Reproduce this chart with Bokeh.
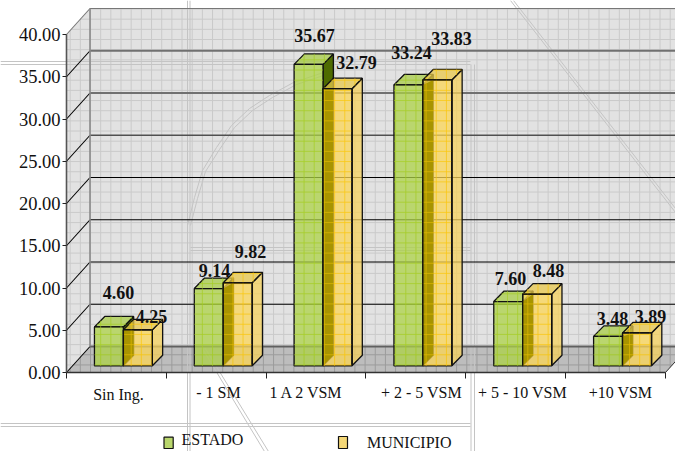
from bokeh.core.properties import value
from bokeh.embed import file_html
from bokeh.models import FixedTicker, LinearAxis, NumeralTickFormatter, Range1d
from bokeh.plotting import figure
from bokeh.resources import INLINE

# Income brackets and the share of population in each one
categories = ["Sin Ing.", "- 1 SM", "1 A 2 VSM", "+ 2 - 5 VSM", "+ 5 - 10 VSM", "+10 VSM"]
estado = [4.60, 9.14, 35.67, 33.24, 7.60, 3.48]
municipio = [4.25, 9.82, 32.79, 33.83, 8.48, 3.89]
y_ticks = [0, 5, 10, 15, 20, 25, 30, 35, 40]

# Canvas scale: where the front axes sit, in canvas pixels
WIDTH, HEIGHT = 675, 451
ORIGIN_X, ORIGIN_Y = 66.0, 372.0
PX_PER_CAT, PX_PER_UNIT = 99.83, 8.45


def dx(px):
    return (px - ORIGIN_X) / PX_PER_CAT


def dy(py):
    return (ORIGIN_Y - py) / PX_PER_UNIT


# 3D box depth of the chart room and of the bars
ROOM_DX, ROOM_DY = 23.5 / PX_PER_CAT, 26.0 / PX_PER_UNIT
BAR_DX, BAR_DY = 10.3 / PX_PER_CAT, 10.5 / PX_PER_UNIT
BAR_BASE = dy(365.3)
BAR_W = 0.29
BAR_OFFSET = 0.28
N = len(categories)
TOP = max(y_ticks)

FONT = value("Liberation Serif")
CELL = 10.17


def lattice(poly):
    """Screen-aligned mesh of lines clipped to a convex polygon given in data units."""
    pts = [((x * PX_PER_CAT + ORIGIN_X), (ORIGIN_Y - y * PX_PER_UNIT)) for x, y in poly]
    xs_out, ys_out = [], []
    lo_x, hi_x = min(p[0] for p in pts), max(p[0] for p in pts)
    lo_y, hi_y = min(p[1] for p in pts), max(p[1] for p in pts)

    def crossings(coord, a, b):
        found = []
        for i in range(len(pts)):
            p, q = pts[i], pts[(i + 1) % len(pts)]
            if (p[a] - coord) * (q[a] - coord) <= 0 and p[a] != q[a]:
                t = (coord - p[a]) / (q[a] - p[a])
                found.append(p[b] + t * (q[b] - p[b]))
        return found

    k = int((lo_x - 90) // CELL)
    while 90 + k * CELL <= hi_x:
        c = 90 + k * CELL
        k += 1
        if c < lo_x:
            continue
        hit = crossings(c, 0, 1)
        if len(hit) >= 2:
            xs_out.append([dx(c), dx(c)])
            ys_out.append([dy(min(hit)), dy(max(hit))])
    k = int((lo_y - 8.5) // CELL)
    while 8.5 + k * CELL <= hi_y:
        c = 8.5 + k * CELL
        k += 1
        if c < lo_y:
            continue
        hit = crossings(c, 1, 0)
        if len(hit) >= 2:
            xs_out.append([dx(min(hit)), dx(max(hit))])
            ys_out.append([dy(c), dy(c)])
    return xs_out, ys_out


p = figure(
    width=WIDTH, height=HEIGHT, output_backend="svg", toolbar_location=None,
    x_range=Range1d(dx(0), dx(WIDTH)), y_range=Range1d(dy(HEIGHT), dy(0)),
    x_axis_type=None, y_axis_type=None, min_border=0, outline_line_color=None,
    background_fill_color="white",
)
p.grid.visible = False

# Room: back wall, side wall and floor
right = N + 0.4
back_wall = [(ROOM_DX, 0 + ROOM_DY), (right, ROOM_DY), (right, TOP + ROOM_DY), (ROOM_DX, TOP + ROOM_DY)]
side_wall = [(0, 0), (ROOM_DX, ROOM_DY), (ROOM_DX, TOP + ROOM_DY), (0, TOP)]
floor = [(0, 0), (N, 0), (N + ROOM_DX, ROOM_DY), (ROOM_DX, ROOM_DY)]

for poly, fill, mesh in [(back_wall, "#e2e2e2", "#cacaca"), (side_wall, "#e2e2e2", "#cacaca"),
                         (floor, "#bdbdbd", "#9c9c9c")]:
    p.patch([a for a, _ in poly], [b for _, b in poly], fill_color=fill, line_color=None)
    mx, my = lattice(poly)
    p.multi_line(mx, my, line_color=mesh, line_width=1)

# Faint linework printed behind the chart
backdrop = [
    [(187, 0), (187, 451)], [(189.5, 0), (189.5, 451)],
    [(0, 61), (470, 61)], [(0, 64), (470, 64)],
    [(470.5, 64), (470.5, 451)], [(474, 64), (474, 451)],
    [(190, 247), (470, 247)], [(190, 250), (470, 250)],
    [(0, 423), (470, 423)], [(0, 426), (470, 426)],
    [(510, 0), (675, 212)], [(513, 0), (675, 208)],
    [(200, 345), (264, 451)], [(203, 345), (268, 451)],
    [(187, 225), (194, 197), (202, 170), (216, 147), (231, 125), (249, 108), (269, 95), (293, 82), (335, 68)],
    [(190, 225), (197, 198), (205, 171), (219, 149), (234, 127), (252, 110), (272, 97), (296, 84), (335, 71)],
]
p.multi_line([[dx(a) for a, _ in ln] for ln in backdrop], [[dy(b) for _, b in ln] for ln in backdrop],
             line_color="#c4c4c4", line_width=1)

# Wall rules: a receding tick and a horizontal line at every value
for v in y_ticks:
    colour, weight = "#000000", 1.1
    if v == 40:
        colour, weight = "#777777", 1.2
    elif v == 35 or v == 30:
        colour, weight = "#707070", 2.0
    elif v == 25:
        colour, weight = "#505050", 1.3
    elif v == 0:
        colour, weight = "#606060", 2.0
    p.line([ROOM_DX, right], [v + ROOM_DY, v + ROOM_DY], line_color=colour, line_width=weight)
    p.line([0, ROOM_DX], [v, v + ROOM_DY], line_color="#000000" if v < 40 else "#777777", line_width=1.1)
p.line([ROOM_DX, ROOM_DX], [ROOM_DY, TOP + ROOM_DY], line_color="#8a8a8a", line_width=1.6)
p.line([N, N + ROOM_DX], [0, ROOM_DY], line_color="#333333", line_width=1)


def add_bar(x0, val, front, top_col, side, mesh, alpha, side_alpha):
    x1 = x0 + BAR_W
    h = BAR_BASE + val
    front_poly = [(x0, BAR_BASE), (x1, BAR_BASE), (x1, h), (x0, h)]
    top_poly = [(x0, h), (x1, h), (x1 + BAR_DX, h + BAR_DY), (x0 + BAR_DX, h + BAR_DY)]
    side_poly = [(x1, BAR_BASE), (x1 + BAR_DX, BAR_BASE + BAR_DY), (x1 + BAR_DX, h + BAR_DY), (x1, h)]
    for poly, col, a in [(side_poly, side, side_alpha), (top_poly, top_col, alpha), (front_poly, front, alpha)]:
        p.patch([c for c, _ in poly], [b for _, b in poly], fill_color=col, fill_alpha=a,
                line_color="#111111", line_width=1.3)
    for poly in (top_poly, front_poly):
        mx, my = lattice(poly)
        p.multi_line(mx, my, line_color=mesh, line_width=1, line_alpha=0.6)


for i in range(N):
    gx = i + BAR_OFFSET
    yx = gx + BAR_W
    add_bar(gx, estado[i], "#acd247", "#a8cc48", "#4e6b00", "#a6d01e", 0.75, 1.0)
    add_bar(yx, municipio[i], "#fbd555", "#e8c84c", "#f5d25c", "#ffc800", 0.75, 0.75)
    # The green bar's dark flank seen through the yellow front
    g_h = BAR_BASE + estado[i]
    y_h = BAR_BASE + municipio[i]
    strip = [(yx, BAR_BASE), (yx + BAR_DX, BAR_BASE + BAR_DY),
             (yx + BAR_DX, min(g_h + BAR_DY, y_h)), (yx, min(g_h, y_h))]
    p.patch([a for a, _ in strip], [b for _, b in strip], fill_color="#a89400", line_color=None)
    mx, my = lattice(strip)
    p.multi_line(mx, my, line_color="#e0b800", line_width=1, line_alpha=0.7)
    p.line([yx, yx, yx + BAR_W, yx + BAR_W], [BAR_BASE, y_h, y_h, BAR_BASE], line_color="#111111", line_width=1.3)

# Axes, placed on the front edge of the room
yaxis = LinearAxis(fixed_location=0, bounds=(0, TOP), ticker=FixedTicker(ticks=y_ticks),
                   formatter=NumeralTickFormatter(format="0.00"),
                   axis_line_color="#555555", axis_line_width=1.6,
                   major_tick_line_color="#222222", major_tick_out=4, major_tick_in=0, minor_tick_line_color=None,
                   major_label_text_font="Liberation Serif", major_label_text_font_size="18.5px",
                   major_label_text_color="#111111", major_label_standoff=2)
p.add_layout(yaxis, "left")
span_edges = list(range(N + 1))
xaxis = LinearAxis(fixed_location=0, bounds=(0, N), ticker=FixedTicker(ticks=span_edges),
                   major_label_overrides={t: "" for t in span_edges},
                   axis_line_color="#333333", axis_line_width=1.6,
                   major_tick_line_color="#222222", major_tick_out=6, major_tick_in=0, minor_tick_line_color=None)
p.add_layout(xaxis, "below")

# Category names sit under each span at slightly uneven places
cat_x = [118, 218, 306, 421, 522, 620]
cat_y = [394, 392, 392, 392, 392, 392]
p.text([dx(a) for a in cat_x], [dy(b) for b in cat_y], text=categories, text_font=FONT,
       text_font_size="16px", text_color="#111111", text_align="center", text_baseline="middle")

# Bold value labels above the bars
est_lx = [118, 214, 314, 411, 510, 612]
est_ly = [291.5, 270, 35, 52, 278, 317.5]
mun_lx = [151, 250, 356, 451, 548, 650]
mun_ly = [315.5, 251, 62, 37.5, 270, 315.5]
for xs, ys, vals in [(est_lx, est_ly, estado), (mun_lx, mun_ly, municipio)]:
    p.text([dx(a) for a in xs], [dy(b) for b in ys], text=[f"{v:.2f}" for v in vals], text_font=FONT,
           text_font_size="18px", text_font_style="bold", text_color="#111111",
           text_align="center", text_baseline="middle")

# Legend
series = ["ESTADO", "MUNICIPIO"]
swatch_left, swatch_right = [163.5, 338], [172.7, 347]
swatch_top, swatch_bottom = [436.7, 436], [448, 448]
p.quad(left=[dx(a) for a in swatch_left], right=[dx(a) for a in swatch_right],
       top=[dy(a) for a in swatch_top], bottom=[dy(a) for a in swatch_bottom],
       fill_color=["#b9d66c", "#f5d877"], line_color="#111111", line_width=1.2)
p.text([dx(181), dx(366.5)], [dy(438.5), dy(441.5)], text=series, text_font=FONT, text_font_size="16px",
       text_color="#111111", text_align="left", text_baseline="middle")

open("out.html", "w").write(file_html(p, INLINE))
